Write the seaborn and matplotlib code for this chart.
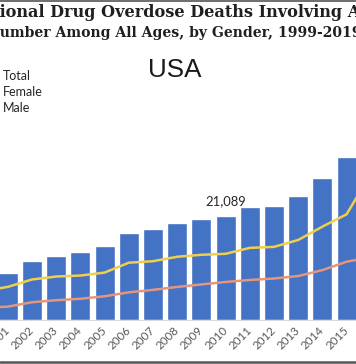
import matplotlib
matplotlib.use("Agg")
import matplotlib.pyplot as plt
import seaborn as sns
import numpy as np
import pandas as pd
from matplotlib.lines import Line2D
from matplotlib.patches import Patch

# ---------------- data ----------------
years = [str(y) for y in range(1999, 2020)]
total = [8048, 8407, 9496, 11920, 12940, 13756, 14918, 17545, 18516, 19582,
         20422, 21089, 22784, 23166, 25052, 28647, 33091, 42249, 47600, 46802, 49860]
male = [5600, 5900, 6700, 8200, 8800, 9000, 9600, 11600, 11900, 12800,
        13200, 13400, 14600, 14800, 16200, 18900, 21400, 29600, 32300, 31900, 34800]
female = [2400, 2500, 2700, 3600, 4000, 4300, 4800, 5600, 6100, 6700,
          7200, 7700, 8100, 8400, 8900, 10100, 11800, 12700, 15300, 14900, 15100]
label_year = "2010"
title1 = "National Drug Overdose Deaths Involving Any Opioid"
title2 = "Number Among All Ages, by Gender, 1999-2019"
subtitle = "USA"
legend_labels = ["Total", "Female", "Male"]

# ---------------- style ----------------
sns.set_theme(style="white")
plt.rcParams["font.family"] = ["Lato", "DejaVu Sans"]

W, H = 356, 364
fig = plt.figure(figsize=(W / 100, H / 100), dpi=100)
fig.patch.set_facecolor("white")

BLUE = "#4472C4"
YELLOW = "#F0CF4C"
ORANGE = "#E4967C"

# axes geometry in pixels
px_per_cat = 24.2
first_center_px = 7.8
base_px = 320
px_per_unit = 4.94 / 1000.0
ymax = 55000
ax_h_px = ymax * px_per_unit
ax = fig.add_axes([0, (H - base_px) / H, 1, ax_h_px / H])
ax.patch.set_alpha(0)

df = pd.DataFrame({"year": years, "total": total, "male": male, "female": female})
df["pos"] = np.arange(len(df))

sns.barplot(data=df, x="year", y="total", color=BLUE, saturation=1,
            width=0.83, ax=ax, zorder=2)
sns.lineplot(data=df, x="pos", y="female", color=ORANGE, lw=1.8, ax=ax, zorder=3)
sns.lineplot(data=df, x="pos", y="male", color=YELLOW, lw=1.8, ax=ax, zorder=3)

ax.set_xticks(np.arange(len(years)))
ax.set_xticklabels(years, rotation=45, ha="right", va="center",
                   rotation_mode="anchor", fontsize=8.4, color="#595959")
ax.tick_params(axis="x", length=0, pad=6)
ax.set_yticks([])

idx2001 = years.index("2001")
x0 = idx2001 - first_center_px / px_per_cat
ax.set_xlim(x0, x0 + W / px_per_cat)
ax.set_ylim(0, ymax)

ax.set_xlabel("")
ax.set_ylabel("")
for s in ["top", "left", "right"]:
    ax.spines[s].set_visible(False)
ax.spines["bottom"].set_color("#D9D9D9")
ax.spines["bottom"].set_linewidth(0.8)

# data label
li = years.index(label_year)
ax.annotate(f"{total[li]:,}", xy=(li, total[li]), xytext=(0, 11),
            textcoords="offset pixels", ha="center", va="baseline",
            fontsize=9.4, color="#262626")

# legend (markers extend off the left edge as in the reference)
handles = [Patch(color=BLUE), Line2D([], [], color=ORANGE, lw=1.8),
           Line2D([], [], color=YELLOW, lw=1.8)]
leg_fs = 9.0
text_left_px = 3
offset_px = (2.0 + 0.8) * leg_fs * 100 / 72
leg = fig.legend(handles, legend_labels, loc="upper left",
                 bbox_to_anchor=((text_left_px - offset_px) / W, 1 - 70 / H),
                 frameon=False, fontsize=leg_fs, borderpad=0, borderaxespad=0,
                 labelspacing=0.33, handlelength=2.0, handletextpad=0.8)
for t in leg.get_texts():
    t.set_color("#262626")

# subtitle
fig.text(175 / W, 1 - 77 / H, subtitle, ha="center", va="baseline",
         fontsize=18.7, family=["Liberation Sans"], color="#1a1a1a")

# titles (cropped at the left edge like the reference)
renderer = fig.canvas.get_renderer()

def text_width(s, size):
    p = fig.text(0, 0, s, fontsize=size, fontweight="bold", family=["DejaVu Serif"])
    w = p.get_window_extent(renderer).width
    p.remove()
    return w

def place_cropped(full, prefix, visible, right_px, baseline_px):
    # choose a font size so the visible part spans from the left edge to right_px
    size = 10.0
    span = text_width(prefix + visible, size) - text_width(prefix, size)
    size = size * right_px / span
    wp = text_width(prefix, size)
    fig.text(-wp / W, 1 - baseline_px / H, full, ha="left", va="baseline",
             fontsize=size, fontweight="bold", family=["DejaVu Serif"],
             color="#1f1f1f")

place_cropped(title1, "Nat", "ional Drug Overdose Deaths Involving", 346, 17)
place_cropped(title2, "N", "umber Among All Ages, by Gender, 1999-201", 353, 37)

# image borders
fig.add_artist(Line2D([0, 1], [1 - 0.5 / H, 1 - 0.5 / H], color="#555555", lw=1.2,
                      transform=fig.transFigure))
fig.add_artist(Line2D([0, 1], [1 - 362 / H, 1 - 362 / H], color="#555555", lw=1.8,
                      transform=fig.transFigure))

fig.savefig("out.png", dpi=100)
